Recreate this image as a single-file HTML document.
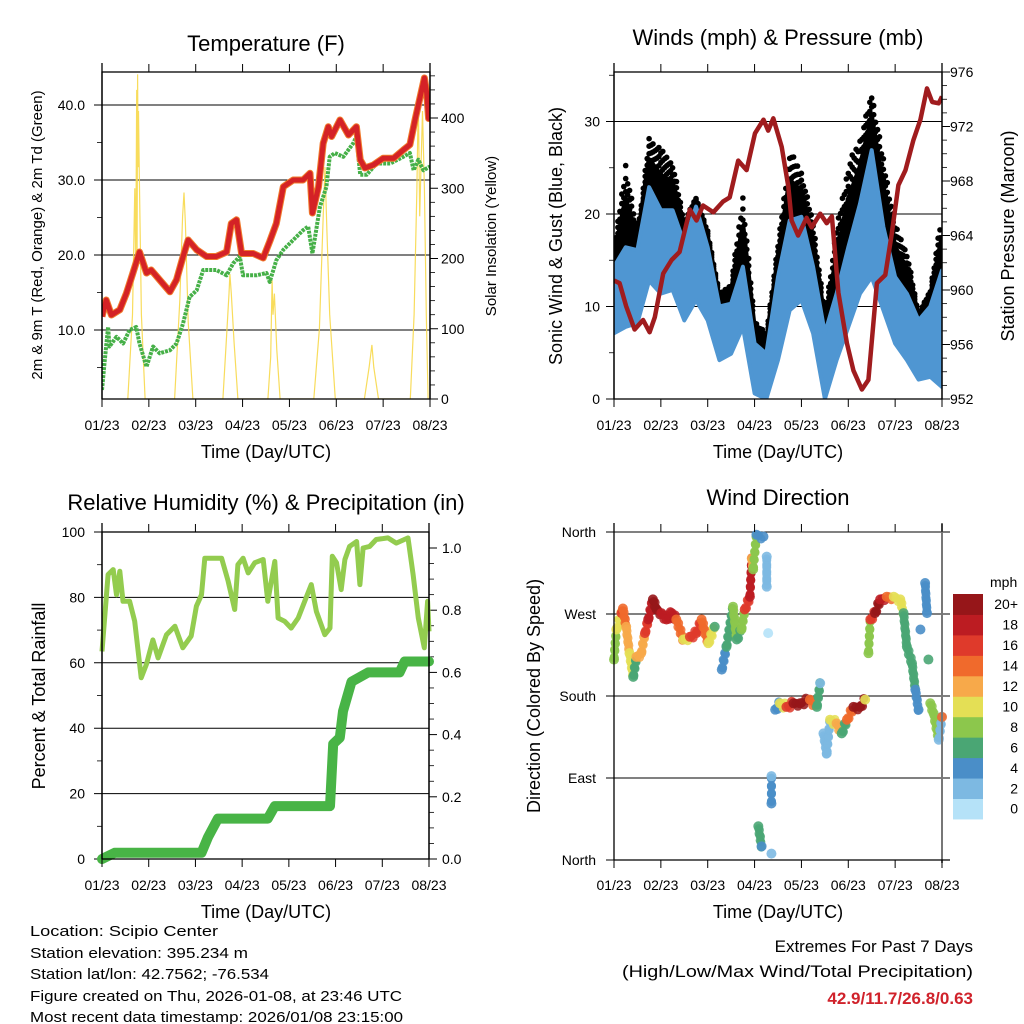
<!DOCTYPE html>
<html><head><meta charset="utf-8">
<style>
html,body{margin:0;padding:0;background:#fff;}
svg{display:block;font-family:"Liberation Sans",Arial,sans-serif;}
</style></head>
<body>
<svg id="fig" width="1024" height="1024" viewBox="0 0 1024 1024">
<rect x="0" y="0" width="1024" height="1024" fill="#fff"/>
<g id="layer"></g>
<text x="266" y="51" font-size="22" text-anchor="middle">Temperature (F)</text>
<text x="778" y="45" font-size="22" text-anchor="middle">Winds (mph) &amp; Pressure (mb)</text>
<text x="266" y="510" font-size="22" text-anchor="middle">Relative Humidity (%) &amp; Precipitation (in)</text>
<text x="778" y="505" font-size="22" text-anchor="middle">Wind Direction</text>

<text transform="translate(42,235) rotate(-90)" font-size="15" text-anchor="middle">2m &amp; 9m T (Red, Orange) &amp; 2m Td (Green)</text>
<text transform="translate(496,236) rotate(-90)" font-size="15" text-anchor="middle">Solar Insolation (Yellow)</text>
<text transform="translate(562,236) rotate(-90)" font-size="18" text-anchor="middle">Sonic Wind &amp; Gust (Blue, Black)</text>
<text transform="translate(1014,236) rotate(-90)" font-size="18" text-anchor="middle">Station Pressure (Maroon)</text>
<text transform="translate(45,696) rotate(-90)" font-size="18" text-anchor="middle">Percent &amp; Total Rainfall</text>
<text transform="translate(540,696) rotate(-90)" font-size="18" text-anchor="middle">Direction (Colored By Speed)</text>

<text x="266" y="458" font-size="18" text-anchor="middle">Time (Day/UTC)</text>
<text x="778" y="458" font-size="18" text-anchor="middle">Time (Day/UTC)</text>
<text x="266" y="918" font-size="18" text-anchor="middle">Time (Day/UTC)</text>
<text x="778" y="918" font-size="18" text-anchor="middle">Time (Day/UTC)</text>

<g font-size="15">
<text x="30" y="936" textLength="188" lengthAdjust="spacingAndGlyphs">Location: Scipio Center</text>
<text x="30" y="958" textLength="218" lengthAdjust="spacingAndGlyphs">Station elevation: 395.234 m</text>
<text x="30" y="979" textLength="239" lengthAdjust="spacingAndGlyphs">Station lat/lon: 42.7562; -76.534</text>
<text x="30" y="1001" textLength="372" lengthAdjust="spacingAndGlyphs">Figure created on Thu, 2026-01-08, at 23:46 UTC</text>
<text x="30" y="1022" textLength="373" lengthAdjust="spacingAndGlyphs">Most recent data timestamp: 2026/01/08 23:15:00</text>
</g>
<g font-size="17" text-anchor="end">
<text x="973" y="952">Extremes For Past 7 Days</text>
<text x="973" y="977" textLength="351" lengthAdjust="spacingAndGlyphs">(High/Low/Max Wind/Total Precipitation)</text>
<text x="973" y="1004" fill="#d0222b" font-weight="bold">42.9/11.7/26.8/0.63</text>
</g>
</svg>
<script>
// ---------- DATA ----------
const dayLabels = ["01/23","02/23","03/23","04/23","05/23","06/23","07/23","08/23"];
// Temperature (F)
const tempT = [0,.09,.20,.38,.52,.66,.80,.95,1.05,1.23,1.45,1.59,1.73,1.84,2.02,2.23,2.44,2.66,2.76,2.87,2.98,3.23,3.44,3.58,3.72,3.87,4.08,4.29,4.44,4.49,4.62,4.72,4.83,4.90,5.08,5.26,5.43,5.51,5.61,5.79,6.00,6.22,6.43,6.57,6.68,6.79,6.88,6.93,6.97,7.0];
const tempV = [11.8,14.0,12.0,12.7,14.9,17.6,20.4,17.6,18.0,16.7,15.1,16.7,19.8,22.0,20.7,19.8,19.8,20.4,24.2,24.7,20.2,20.2,19.6,21.8,24.2,29.1,30.0,30.0,30.9,25.6,29.1,34.9,37.1,35.8,38.0,36.0,37.1,32.7,31.6,32.0,32.9,32.9,34.0,34.7,38.0,41.1,43.6,41.6,38.2,39.8];
const dewT = [0,.06,.13,.16,.31,.45,.59,.73,.80,.95,1.09,1.23,1.45,1.59,1.73,1.87,2.02,2.16,2.44,2.66,2.80,2.94,3.01,3.30,3.51,3.58,3.72,3.87,4.08,4.29,4.40,4.49,4.65,4.79,4.86,4.97,5.15,5.36,5.43,5.51,5.65,5.86,6.15,6.43,6.57,6.65,6.75,6.86,7.0];
const dewV = [2.0,6.0,10.4,7.8,9.1,8.2,10.0,10.4,8.2,5.1,7.8,6.9,7.3,8.2,10.9,14.4,15.3,18.0,18.0,17.3,18.9,19.8,17.3,17.3,17.6,16.4,19.3,20.7,22.0,23.3,23.8,20.2,26.4,29.1,33.1,33.6,33.1,34.9,35.8,30.7,30.7,32.2,32.2,33.1,33.6,31.3,32.7,31.3,31.8];
const solarT = [0.55,0.65,0.70,0.72,0.74,0.75,0.76,0.77,0.78,0.80,0.84,0.92, 1.55,1.66,1.72,1.75,1.78,1.84,1.94, 2.58,2.66,2.71,2.73,2.76,2.82,2.90, 3.54,3.60,3.63,3.65,3.68,3.73,3.80, 4.52,4.64,4.72,4.76,4.80,4.86,4.98, 5.60,5.70,5.76,5.80,5.90, 6.58,6.66,6.72,6.75,6.78,6.84,6.88,6.92,6.96];
const solarV = [0,120,300,180,440,210,462,330,410,300,120,0, 0,140,260,294,250,110,0, 0,90,150,178,150,80,0, 0,60,169,120,150,70,0, 0,100,260,330,240,120,0, 0,45,77,45,0, 0,120,300,429,260,410,300,120,0];
// Winds (mph) and pressure (mb)
const windT = [0,.25,.5,.75,1,1.25,1.5,1.75,2,2.25,2.5,2.75,3,3.25,3.5,3.75,4,4.25,4.5,4.75,5,5.25,5.5,5.75,6,6.25,6.5,6.75,7];
const windHi = [14.3,16.4,16.1,22.9,20.4,20.4,16.8,20.8,16.4,10.0,10.3,14.3,6.0,4.9,13.2,19.3,19.7,14.3,7.1,11.4,16.4,21.1,26.9,18.6,13.2,11.4,8.5,10.0,13.9];
const windLo = [7.1,7.8,8.2,12.8,11.4,11.8,8.5,10.7,8.5,4.2,4.9,7.8,0.6,0,4.2,9.6,10.7,7.1,0,4.2,7.8,11.4,13.2,9.6,6.0,4.2,2.1,2.4,1.3];
const gustHi = [16.1,25.8,17.9,28.3,27.2,25.8,19.3,21.8,18.2,11.4,12.5,22.2,8.5,7.1,16.8,27.2,24.7,19.3,9.2,18.6,25.8,28.3,33.3,26.2,19.0,16.1,9.2,11.8,20.4];
const presT = [0,.12,.26,.44,.62,.76,.87,1.05,1.23,1.40,1.62,1.76,1.90,2.12,2.33,2.47,2.65,2.83,3.01,3.19,3.29,3.40,3.58,3.72,3.79,3.93,4.11,4.22,4.40,4.54,4.65,4.79,4.97,5.11,5.29,5.43,5.61,5.79,5.93,6.07,6.22,6.39,6.54,6.68,6.79,6.93,7.0];
const presV = [960.7,960.5,958.8,957.1,957.8,956.9,958.0,961.2,962.2,962.8,965.9,965.1,966.2,965.7,966.5,966.8,969.5,968.8,971.5,972.5,971.7,972.6,970.5,967.6,965.1,964.0,965.3,964.6,965.6,964.9,965.4,959.8,956.1,954.1,952.7,953.4,960.5,961.1,964.2,967.7,968.8,971.0,972.5,974.8,973.8,973.7,974.2];
// Humidity (%) and precipitation (in)
const rhT = [0,.13,.24,.31,.38,.45,.59,.70,.84,.95,1.09,1.20,1.38,1.56,1.73,1.91,2.02,2.13,2.20,2.56,2.70,2.84,2.91,3.02,3.13,3.27,3.45,3.55,3.70,3.77,3.91,4.05,4.20,4.34,4.48,4.59,4.77,4.88,4.93,5.02,5.12,5.20,5.30,5.45,5.52,5.59,5.73,5.87,6.12,6.30,6.55,6.66,6.77,6.90,6.97,7.0];
const rhV = [63.5,87,88.5,80.8,88,78.8,78.8,72.7,55.4,59.5,67,61.5,68.6,71.2,64.6,68.2,77.3,80.8,92,92,85,76.3,90,92,87.5,90.6,91.6,78.8,91,73.7,72.7,70.6,73.7,78.8,83.9,75.7,68.6,70.6,92.6,90.6,82.4,91.6,95.6,97.1,83.9,95.1,95.6,97.7,98.2,96.6,98.2,87,73.7,64.6,78.8,69.6];
const rainT = [0,.27,2.13,2.27,2.48,3.55,3.70,4.88,4.95,5.09,5.16,5.34,5.70,6.37,6.48,7.0];
const rainV = [0,.02,.02,.07,.13,.13,.17,.17,.37,.39,.475,.57,.60,.60,.635,.635];
// Wind direction (deg) colored by speed (mph)
const dirT = [0,.05,.16,.19,.26,.33,.41,.48,.58,.66,.73,.83,.91,1.01,1.12,1.23,1.33,1.48,1.62,1.76,1.87,2.01,2.15,2.30,2.40,2.54,2.62,2.72,2.79,2.90,2.94,2.97,3.04,3.19,3.08,3.15,3.26,3.26,3.29,3.36,3.36,3.36,3.44,3.54,3.68,3.83,3.97,4.18,4.33,4.40,4.47,4.54,4.61,4.75,4.86,4.97,5.11,5.25,5.36,5.43,5.47,5.57,5.68,5.82,5.97,6.11,6.18,6.25,6.36,6.43,6.50,6.54,6.64,6.68,6.71,6.75,6.82,6.93,7.0];
const dirV = [220,253,271,276,256,227,201,223,227,249,264,286,275,271,264,271,264,242,245,249,264,238,256,209,234,278,242,253,275,289,331,319,357,355,37,15,333,300,249,7,62,92,165,172,168,172,172,176,168,194,139,117,154,150,139,154,168,168,176,227,264,271,286,289,289,286,271,234,216,187,165,253,304,271,220,172,161,132,157];
const dirS = [8,10,16,14,12,10,6,12,12,16,18,20,20,18,18,18,14,10,16,16,14,10,6,4,6,8,6,8,16,18,12,8,4,4,6,4,2,2,0,2,4,2,4,10,16,20,20,14,6,2,2,2,10,12,6,14,20,20,10,8,16,20,18,14,10,10,6,6,6,4,4,4,4,4,6,8,8,2,14];
const cbLabels = ["0","2","4","6","8","10","12","14","16","18","20+"];
const cbColors = ["#b5e2f8","#7db9e2","#4a8ec8","#4aa674","#8cc74c","#e4df55","#f7a94a","#f06a2c","#df3a2b","#bc1c22","#961619"];

// ---------- HELPERS ----------
const NS = "http://www.w3.org/2000/svg";
const layer = document.getElementById('layer');
function mk(tag, attrs, parent){
  const e = document.createElementNS(NS, tag);
  for (const k in attrs) e.setAttribute(k, attrs[k]);
  (parent||layer).appendChild(e);
  return e;
}
function linScale(d0,d1,r0,r1){ return v => r0 + (v-d0)/(d1-d0)*(r1-r0); }
function pathFrom(T, V, sx, sy){
  let d=""; for(let i=0;i<T.length;i++){ d += (i?"L":"M")+sx(T[i]).toFixed(1)+","+sy(V[i]).toFixed(1); } return d;
}
function frame(x0,y0,x1,y1,name){
  const r = mk('rect',{x:x0,y:y0,width:x1-x0,height:y1-y0,fill:'none',stroke:'#000','stroke-width':1.3});
  
  
}
function xAxis(x0,x1,yTop,yBot,labelY,name){
  const sx = linScale(0,7,x0,x1);
  const g = mk('g',{});
  
  
  for(let i=0;i<dayLabels.length;i++){
    const x = sx(i);
    mk('line',{x1:x,y1:yBot,x2:x,y2:yBot+8,stroke:'#000','stroke-width':1},g);
    mk('line',{x1:x,y1:yTop,x2:x,y2:yTop-8,stroke:'#000','stroke-width':1},g);
    const t = mk('text',{x:x,y:labelY,'font-size':14,'text-anchor':'middle'},g);
    t.textContent = dayLabels[i];
    
    
  }
  return sx;
}
function yAxis(vals, labels, sy, xLine, side, x0, x1, labelX, name, minor, gridExtR){
  const g = mk('g',{});
  
  
  for(let i=0;i<vals.length;i++){
    const y = sy(vals[i]);
    if(side==='left'){
      mk('line',{x1:xLine-8,y1:y,x2:(gridExtR||xLine),y2:y,stroke:'#000','stroke-width':1},g);
    } else {
      mk('line',{x1:xLine,y1:y,x2:xLine+8,y2:y,stroke:'#000','stroke-width':1},g);
    }
    const t = mk('text',{x:labelX,y:y+5,'font-size':14,'text-anchor':side==='left'?'end':'start'},g);
    t.textContent = labels[i];
    
    
  }
  (minor||[]).forEach(v=>{
    const y = sy(v);
    if(side==='left') mk('line',{x1:xLine-5,y1:y,x2:xLine,y2:y,stroke:'#000','stroke-width':0.8},g);
    else mk('line',{x1:xLine,y1:y,x2:xLine+5,y2:y,stroke:'#000','stroke-width':0.8},g);
  });
}

// ---------- PANEL 1: TEMPERATURE ----------
(function(){
  const X0=102,X1=430,Y0=72,Y1=399;
  const sx = linScale(0,7,X0,X1);
  const sy = linScale(40,10,105,330);
  const ss = linScale(0,400,399,118);
  mk('defs',{}).innerHTML = '<clipPath id="c1"><rect x="102" y="72" width="328" height="327"/></clipPath><clipPath id="c2"><rect x="614" y="72" width="328" height="327"/></clipPath><clipPath id="c3"><rect x="96" y="526" width="340" height="340"/></clipPath>';
  yAxis([40,30,20,10],["40.0","30.0","20.0","10.0"],sy,X0,'left',X0,X1,85,'temperature-y-axis',[35,25,15,5],X1);
  yAxis([0,100,200,300,400],["0","100","200","300","400"],ss,X1,'right',X0,X1,441,'solar-y-axis',[20,40,60,80,120,140,160,180,220,240,260,280,320,340,360,380,420,440,460]);
  const g = mk('g',{'clip-path':'url(#c1)'});
  const s1 = mk('path',{d:pathFrom(solarT,solarV,sx,ss),fill:'none',stroke:'#f7d84a','stroke-width':1.2,opacity:0.9},g);
  
  
  const dw = mk('path',{d:pathFrom(dewT,dewV,sx,sy),fill:'none',stroke:'#46b048','stroke-width':4,'stroke-dasharray':'3 1','stroke-linejoin':'round'},g);
  
  
  const t9 = mk('path',{d:pathFrom(tempT,tempV,sx,sy),fill:'none',stroke:'#f07a2c','stroke-width':7,'stroke-linejoin':'round'},g);
  
  
  const t2 = mk('path',{d:pathFrom(tempT,tempV,sx,sy),fill:'none',stroke:'#d42226','stroke-width':5,'stroke-linejoin':'round'},g);
  
  
  mk('line',{x1:X0,y1:63,x2:X0,y2:Y1,stroke:'#000','stroke-width':1.3});
  mk('line',{x1:X1,y1:63,x2:X1,y2:Y1,stroke:'#000','stroke-width':1.3});
  frame(X0,Y0,X1,Y1,'temperature-plot-frame');
  xAxis(X0,X1,Y0,Y1,430,'temperature-x-axis');
})();

// ---------- PANEL 2: WINDS ----------
(function(){
  const X0=614,X1=942,Y0=72,Y1=399;
  const sx = linScale(0,7,X0,X1);
  const sy = linScale(0,30,399,121.5);
  const sp = linScale(952,976,399,72);
  yAxis([0,10,20,30],["0","10","20","30"],sy,X0,'left',X0,X1,600,'wind-y-axis',[5,15,25,35],X1);
  const pmin=[]; for(let p=953;p<976;p++) if(p%4) pmin.push(p);
  yAxis([952,956,960,964,968,972,976],["952","956","960","964","968","972","976"],sp,X1,'right',X0,X1,950,'pressure-y-axis',pmin);
  const g = mk('g',{'clip-path':'url(#c2)'});
  // gust cloud: dense core + sparse dots to the max
  const n = windT.length;
  const core = i => windHi[i] + 0.55*(gustHi[i]-windHi[i]);
  // sparse outer dots
  const dots = mk('g',{},g);
  
  
  for(let i=0;i<n-1;i++){
    const xa=sx(windT[i]), xb=sx(windT[i+1]);
    for(let k=0;k<6;k++){
      const f=k/6, x=xa+(xb-xa)*f;
      const top = gustHi[i]+(gustHi[i+1]-gustHi[i])*f;
      const cr = core(i)+(core(i+1)-core(i))*f;
      for(let j=0;j<3;j++){
        const v = cr + (top-cr)*((j+((k*7+i*3)%5)/5)/3);
        const c=mk('circle',{cx:x.toFixed(1),cy:sy(v).toFixed(1),r:2.8,fill:'#000'},dots);
        
        
      }
    }
  }
  let d="M"; for(let i=0;i<n;i++) d+=(i?"L":"")+sx(windT[i]).toFixed(1)+","+sy(core(i)).toFixed(1);
  for(let i=n-1;i>=0;i--) d+="L"+sx(windT[i]).toFixed(1)+","+sy(windLo[i]+2).toFixed(1);
  const gb = mk('path',{d:d+"Z",fill:'#000',stroke:'#000','stroke-width':5,'stroke-linejoin':'round'},g);
  
  
  d="M"; for(let i=0;i<n;i++) d+=(i?"L":"")+sx(windT[i]).toFixed(1)+","+sy(windHi[i]).toFixed(1);
  for(let i=n-1;i>=0;i--) d+="L"+sx(windT[i]).toFixed(1)+","+sy(windLo[i]).toFixed(1);
  const wb = mk('path',{d:d+"Z",fill:'#4f96d2',stroke:'#4f96d2','stroke-width':4,'stroke-linejoin':'round'},g);
  
  
  const pr = mk('path',{d:pathFrom(presT,presV,sx,sp),fill:'none',stroke:'#a01c1e','stroke-width':4.5,'stroke-linejoin':'round'},g);
  
  
  mk('line',{x1:X0,y1:63,x2:X0,y2:Y1,stroke:'#000','stroke-width':1.3});
  mk('line',{x1:X1,y1:63,x2:X1,y2:Y1,stroke:'#000','stroke-width':1.3});
  frame(X0,Y0,X1,Y1,'winds-plot-frame');
  xAxis(X0,X1,Y0,Y1,430,'winds-x-axis');
})();

// ---------- PANEL 3: HUMIDITY ----------
(function(){
  const X0=102,X1=429,Y0=532,Y1=859;
  const sx = linScale(0,7,X0,X1);
  const sy = linScale(0,100,859,532);
  const sr = linScale(0,0.6,859,672.4);
  yAxis([0,20,40,60,80,100],["0","20","40","60","80","100"],sy,X0,'left',X0,X1,85,'humidity-y-axis',[10,30,50,70,90],X1);
  yAxis([0,.2,.4,.6,.8,1.0],["0.0","0.2","0.4","0.6","0.8","1.0"],sr,X1,'right',X0,X1,442,'precip-y-axis',[.05,.1,.15,.25,.3,.35,.45,.5,.55,.65,.7,.75,.85,.9,.95]);
  const g = mk('g',{'clip-path':'url(#c3)'});
  const rh = mk('path',{d:pathFrom(rhT,rhV,sx,sy),fill:'none',stroke:'#93cc4f','stroke-width':5,'stroke-linejoin':'round'},g);
  
  
  const rn = mk('path',{d:pathFrom(rainT,rainV,sx,sr),fill:'none',stroke:'#48b446','stroke-width':10,'stroke-linejoin':'round','stroke-linecap':'round'},g);
  
  
  mk('line',{x1:X0,y1:523,x2:X0,y2:Y1,stroke:'#000','stroke-width':1.3});
  mk('line',{x1:X1,y1:523,x2:X1,y2:Y1,stroke:'#000','stroke-width':1.3});
  frame(X0,Y0,X1,Y1,'humidity-plot-frame');
  xAxis(X0,X1,Y0,Y1,890,'humidity-x-axis');
})();

// ---------- PANEL 4: WIND DIRECTION ----------
(function(){
  const X0=614,X1=942,Y0=532,Y1=860;
  const sx = linScale(0,7,X0,X1);
  const sy = linScale(0,360,860,532);
  yAxis([0,90,180,270,360],["North","East","South","West","North"],sy,X0,'left',X0,X1,596,'direction-y-axis',[],950);
  const col = s => cbColors[Math.min(10,Math.max(0,Math.round(s/2)))];
  const g = mk('g',{});
  
  
  for(let i=0;i<dirT.length;i++){
    const x=sx(dirT[i]), y=sy(dirV[i]);
    if(i<dirT.length-1){
      const dt=dirT[i+1]-dirT[i], dv=dirV[i+1]-dirV[i];
      if(dt>=0 && dt<0.3 && Math.abs(dv)<45){
        const x2=sx(dirT[i+1]), y2=sy(dirV[i+1]);
        const n=Math.max(1,Math.ceil(Math.hypot(x2-x,y2-y)/2.5));
        for(let k=1;k<n;k++){
          const off = ((k%3)-1)*3;
          const c=mk('circle',{cx:x+(x2-x)*k/n,cy:y+(y2-y)*k/n+off,r:4.5,fill:col(dirS[i]),opacity:0.85},g);
          
          
        }
      }
    }
    const c=mk('circle',{cx:x,cy:y,r:5,fill:col(dirS[i]),opacity:0.9},g);
    
    
  }
  mk('line',{x1:X0,y1:523,x2:X0,y2:Y1,stroke:'#000','stroke-width':1.3});
  mk('line',{x1:X1,y1:523,x2:X1,y2:Y1+3,stroke:'#777','stroke-width':2});
  mk('line',{x1:X0,y1:Y1,x2:950,y2:Y1,stroke:'#000','stroke-width':1.3});
  xAxis(X0,X1,Y0,Y1,890,'direction-x-axis');
  // colorbar
  const cb = mk('g',{});
  
  
  const h=20.45, top=594;
  for(let i=0;i<cbColors.length;i++){
    const y = top + (10-i)*h;
    const r=mk('rect',{x:953,y:y,width:30,height:h+0.5,fill:cbColors[i]},cb);
    
    
    const t=mk('text',{x:1018,y:y+h/2+5,'font-size':14,'text-anchor':'end'},cb);
    t.textContent=cbLabels[i];
    
    
  }
  const u=mk('text',{x:990,y:587,'font-size':14},cb);
  u.textContent='mph';
  
  
})();
</script>
</body></html>
